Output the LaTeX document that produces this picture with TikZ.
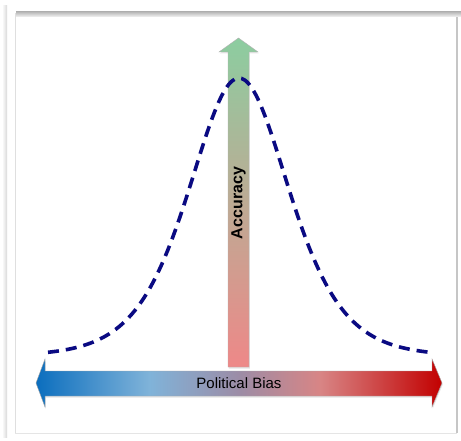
\documentclass[tikz,border=0pt]{standalone}
\usepackage{fontspec}
\setmainfont{Liberation Sans}
\usetikzlibrary{shadows}

\definecolor{biasblue}{HTML}{0B6EBE}
\definecolor{biaslight}{HTML}{80B3D9}
\definecolor{biasmid}{HTML}{9C8CA6}
\definecolor{biaspink}{HTML}{D88585}
\definecolor{biasred}{HTML}{C20000}
\definecolor{accgreen}{HTML}{8CCDA0}
\definecolor{accmid}{HTML}{B3AA93}
\definecolor{accpink}{HTML}{EE8888}
\definecolor{curvenavy}{HTML}{0A0A82}

\pgfdeclarehorizontalshading{polbias}{100bp}{color(0bp)=(biasblue); color(25bp)=(biasblue);
  color(39bp)=(biaslight); color(50bp)=(biasmid); color(60bp)=(biaspink);
  color(75bp)=(biasred); color(100bp)=(biasred)}

\begin{document}
\begin{tikzpicture}[x=1pt,y=1pt,
    bellcurve/.style={draw=curvenavy, line width=3.6pt, dash pattern=on 11pt off 7pt},
    axislabel/.style={font=\fontsize{15}{18}\selectfont, text=black, inner sep=0pt},
    softshadow/.style={drop shadow={opacity=0.2, shadow xshift=0.8pt, shadow yshift=-1.5pt}}]
    \useasboundingbox (0,0) rectangle (461,440);
    \fill[white] (0,0) rectangle (461,440);

    % Frame
    \shade[left color=white, right color=gray!30] (2,3) rectangle (7,434);
    \shade[top color=gray!55, bottom color=gray!8] (16,428) rectangle (461,423);
    \draw[gray!25] (15,7) -- (15,427);
    \draw[gray!45, line width=1.5pt] (457,7) -- (457,423);
    \draw[gray!20] (15,7) -- (457,7);

    % Political bias axis
    \shade[shading=polbias, draw=gray!70, line width=0.4pt, softshadow]
        (36,57) -- (45,81) -- (45,69) -- (432,69) -- (432,81) -- (442,57)
        -- (432,33) -- (432,44) -- (45,44) -- (45,33) -- cycle;

    % Accuracy axis
    \shade[top color=accgreen, middle color=accmid, bottom color=accpink,
        draw=gray!60, line width=0.4pt, softshadow]
        (228,73) -- (249,73) -- (249,388) -- (258,388) -- (238.5,402)
        -- (219,388) -- (228,388) -- cycle;

    % Bell curve
    \draw[bellcurve] plot[domain=48:432, samples=120, smooth]
        (\x, {84+278/(cosh((\x-239)/67))^2});

    % Labels
    \node[axislabel] (bias) at (239,57) {Political Bias};
    \node[axislabel, font=\fontsize{16}{18}\bfseries, rotate=90] (accuracy) at (238.5,237) {Accuracy};
\end{tikzpicture}
\end{document}
